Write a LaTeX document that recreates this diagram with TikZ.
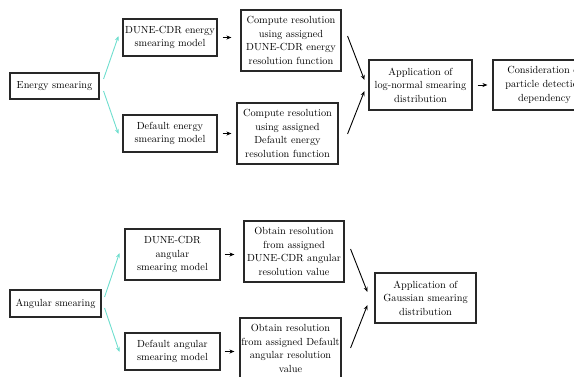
\documentclass[tikz,border=0pt]{standalone}
\usetikzlibrary{arrows.meta,calc}
\definecolor{cyanarr}{RGB}{110,222,206}
\definecolor{boxline}{RGB}{40,40,40}
\begin{document}
\begin{tikzpicture}[x=1pt,y=-1pt,
  box/.style={draw=boxline,line width=1.1pt,align=center,inner sep=0pt,
    font=\fontsize{10.3}{13.6}\selectfont},
  carr/.style={draw=cyanarr,line width=0.9pt,-{Stealth[length=5pt,width=4pt]}},
  barr/.style={draw=black,line width=0.9pt,-{Stealth[length=5pt,width=4pt]}}]
\useasboundingbox (0,0) rectangle (574,376);
% energy
\node[box,minimum width=89pt,minimum height=26pt] (es) at (54.5,86) {Energy smearing};
\node[box,minimum width=94pt,minimum height=37pt] (dce) at (170,37.5) {DUNE-CDR energy\\smearing model};
\node[box,minimum width=94pt,minimum height=37pt] (dfe) at (170,133.5) {Default energy\\smearing model};
\node[box,minimum width=100pt,minimum height=61pt] (cr1) at (291,40.5) {Compute resolution\\using assigned\\DUNE-CDR energy\\resolution function};
\node[box,minimum width=101pt,minimum height=61pt] (cr2) at (287.5,133.5) {Compute resolution\\using assigned\\Default energy\\resolution function};
\node[box,minimum width=103pt,minimum height=50pt] (app) at (420.5,85) {Application of\\log-normal smearing\\distribution};
\node[box,minimum width=103pt,minimum height=50pt] (cons) at (544.5,85) {Consideration of\\particle detection\\dependency};
\draw[carr] ($(es.east)+(4,-7)$) -- ($(dce.west)+(-4,-1.5)$);
\draw[carr] ($(es.east)+(4,5)$) -- ($(dfe.west)+(-4,0.5)$);
\draw[barr,shorten <=5pt,shorten >=9pt] (dce.east) -- (dce.east -| cr1.west);
\draw[barr,shorten <=5pt,shorten >=5pt] (dfe.east) -- (dfe.east -| cr2.west);
\draw[barr] ($(cr1.east)+(6,-4.5)$) -- ($(app.west)+(-4,-5)$);
\draw[barr] ($(cr2.east)+(9,0.5)$) -- ($(app.west)+(-4,6)$);
\draw[barr,shorten <=5pt,shorten >=5pt] (app.east) -- (cons.west);
% angular
\node[box,minimum width=91pt,minimum height=27pt] (as) at (55.5,303.5) {Angular smearing};
\node[box,minimum width=95pt,minimum height=51pt] (dca) at (172.5,254.5) {DUNE-CDR\\angular\\smearing model};
\node[box,minimum width=95pt,minimum height=37pt] (dfa) at (172.5,351.5) {Default angular\\smearing model};
\node[box,minimum width=100pt,minimum height=61pt] (ob1) at (294,251.5) {Obtain resolution\\from assigned\\DUNE-CDR angular\\resolution value};
\node[box,minimum width=101pt,minimum height=61pt] (ob2) at (290.5,348.5) {Obtain resolution\\from assigned Default\\angular resolution\\value};
\node[box,minimum width=101pt,minimum height=50pt] (gau) at (425.5,298) {Application of\\Gaussian smearing\\distribution};
\draw[carr] ($(as.east)+(3,-6.5)$) -- ($(dca.west)+(-5,-1.5)$);
\draw[carr] ($(as.east)+(3,4.5)$) -- ($(dfa.west)+(-5,0.5)$);
\draw[barr,shorten <=4pt,shorten >=9pt] (dca.east) -- (dca.east -| ob1.west);
\draw[barr,shorten <=4pt,shorten >=5pt] (dfa.east) -- (dfa.east -| ob2.west);
\draw[barr] ($(ob1.east)+(6,-2.5)$) -- ($(gau.west)+(-7,-6)$);
\draw[barr] ($(ob2.east)+(9,-0.5)$) -- ($(gau.west)+(-7,7)$);
\end{tikzpicture}
\end{document}
